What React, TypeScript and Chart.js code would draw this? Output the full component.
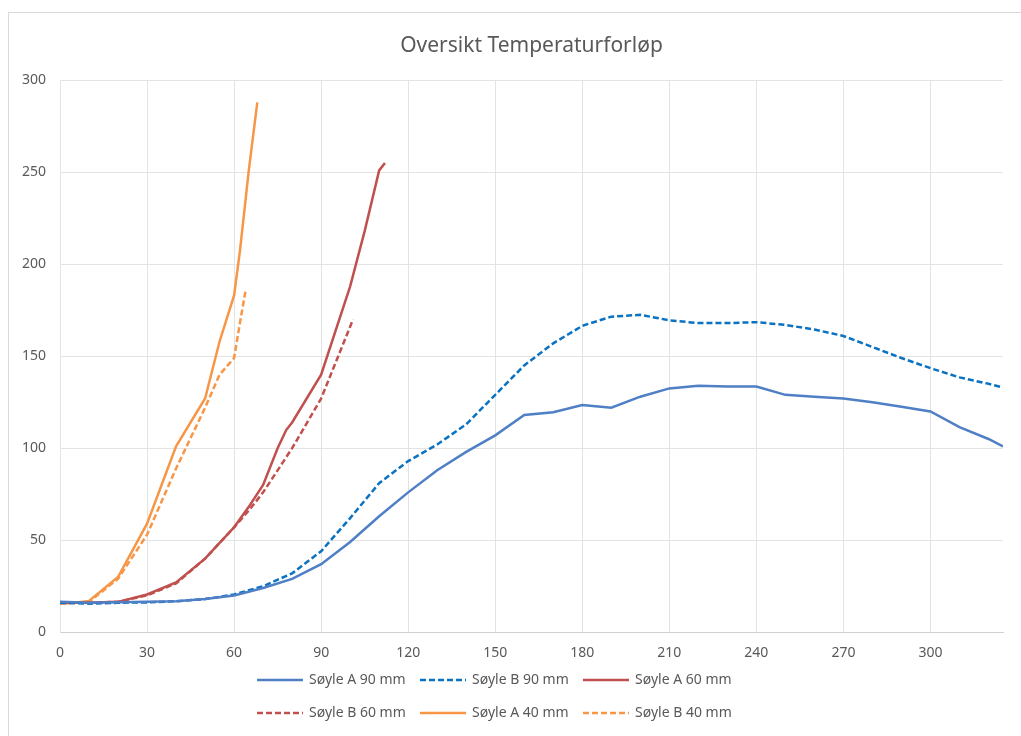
import React, { useEffect, useRef } from 'react';
import { Chart, registerables } from 'chart.js';
Chart.register(...registerables);

const FONT = "'Noto Sans', 'DejaVu Sans', sans-serif";
Chart.defaults.font.family = FONT;

const titleText = 'Oversikt Temperaturforløp';

const a90X = [0, 10, 20, 30, 40, 50, 60, 70, 80, 90, 100, 110, 120, 130, 140, 150, 160, 170, 180, 190, 200, 210, 220, 230, 240, 250, 260, 270, 280, 290, 300, 310, 320, 325];
const a90Y = [16.5, 16, 16.3, 16.5, 16.8, 18, 20, 24, 29, 37, 49, 63, 76, 88, 98, 107, 118, 119.5, 123.5, 122, 128, 132.5, 134, 133.5, 133.5, 129, 128, 127, 125, 122.5, 120, 111.5, 105, 101];

const b90X = [0, 10, 20, 30, 40, 50, 60, 70, 80, 90, 100, 110, 120, 130, 140, 150, 160, 170, 180, 190, 200, 210, 220, 230, 240, 250, 260, 270, 280, 290, 300, 310, 320, 325];
const b90Y = [16, 15.5, 16, 16.2, 16.8, 18, 20.5, 25, 32, 44, 62, 81, 93, 102, 113, 129, 145, 157, 166.5, 171.5, 172.5, 169.5, 168, 168, 168.5, 167, 164.5, 161, 155, 149, 143.5, 138.5, 135, 133];

const a60X = [0, 10, 20, 30, 40, 50, 60, 65, 70, 75, 78, 80, 90, 100, 105, 110, 112];
const a60Y = [16, 16, 16.5, 20.5, 27, 40, 57, 68, 80, 100, 110, 114, 140, 188, 218, 251, 255];

const b60X = [0, 10, 20, 30, 40, 50, 60, 65, 70, 80, 90, 101];
const b60Y = [16, 16, 16.5, 20, 26.5, 40, 57, 66, 76, 100, 127, 170];

const a40X = [0, 5, 10, 20, 30, 40, 50, 55, 60, 62, 65, 68];
const a40Y = [15.5, 16, 17, 30, 59, 101, 127, 158, 183, 207, 250, 288];

const b40X = [0, 10, 20, 30, 40, 50, 55, 60, 62, 64];
const b40Y = [15.5, 16.5, 29, 53, 89, 122, 140, 149, 168, 186];

const seriesNames = ['Søyle A 90 mm', 'Søyle B 90 mm', 'Søyle A 60 mm', 'Søyle B 60 mm', 'Søyle A 40 mm', 'Søyle B 40 mm'];
const seriesX = [a90X, b90X, a60X, b60X, a40X, b40X];
const seriesY = [a90Y, b90Y, a60Y, b60Y, a40Y, b40Y];
const seriesColors = ['#4F7FC4', '#0A72C2', '#C0504D', '#C0504D', '#F79646', '#F79646'];
const seriesDashed = [false, true, false, true, false, true];

const xTickStep = 30;
const xMin = 0;
const xMax = 325;
const yMin = 0;
const yMax = 300;
const yTickStep = 50;

const DASH = [6, 3];

const gridLegend = {
  id: 'gridLegend',
  afterDraw(chart: any) {
    const ctx = chart.ctx;
    const colW = 163;
    const startX = chart.width / 2 - 258;
    const rowsY = [667, 700];
    ctx.save();
    chart.data.datasets.forEach((ds: any, i: number) => {
      const col = i % 3;
      const row = Math.floor(i / 3);
      const x = startX + col * colW;
      const y = rowsY[row];
      ctx.beginPath();
      ctx.strokeStyle = ds.borderColor;
      ctx.lineWidth = 2.5;
      ctx.setLineDash(ds.borderDash || []);
      ctx.moveTo(x, y);
      ctx.lineTo(x + 46, y);
      ctx.stroke();
      ctx.setLineDash([]);
      ctx.fillStyle = '#595959';
      ctx.font = `14px ${FONT}`;
      ctx.textBaseline = 'middle';
      ctx.textAlign = 'left';
      ctx.fillText(ds.label, x + 52, y);
    });
    ctx.restore();
  },
};

export default function App() {
  const ref = useRef<HTMLCanvasElement | null>(null);
  useEffect(() => {
    if (!ref.current) return;
    const datasets = seriesNames.map((name, i) => ({
      label: name,
      data: seriesX[i].map((x, j) => ({ x, y: seriesY[i][j] })),
      borderColor: seriesColors[i],
      backgroundColor: seriesColors[i],
      borderWidth: 2.5,
      borderDash: seriesDashed[i] ? DASH : [],
      pointRadius: 0,
      tension: 0,
      fill: false,
    }));
    const chart = new Chart(ref.current, {
      type: 'line',
      data: { datasets },
      plugins: [gridLegend],
      options: {
        animation: false,
        responsive: false,
        devicePixelRatio: 1,
        parsing: false as any,
        layout: { padding: { left: 0, right: 18, top: 0, bottom: 63 } },
        plugins: {
          legend: { display: false },
          tooltip: { enabled: false },
          title: {
            display: true,
            fullSize: false,
            text: titleText,
            color: '#595959',
            font: { size: 21, weight: 'normal', family: FONT },
            padding: { top: 20, bottom: 22 },
          },
        },
        scales: {
          x: {
            type: 'linear',
            min: xMin,
            max: xMax,
            afterBuildTicks: (scale: any) => {
              scale.ticks = scale.ticks.filter((t: any) => t.value % xTickStep === 0);
            },
            ticks: { stepSize: xTickStep, color: '#595959', font: { size: 14 }, padding: 12, maxRotation: 0 },
            grid: { color: '#e3e3e3', drawTicks: false, lineWidth: 1 },
            border: { color: '#d0d0d0' },
          },
          y: {
            type: 'linear',
            min: yMin,
            max: yMax,
            afterFit: (scale: any) => {
              scale.width = 51;
            },
            ticks: { stepSize: yTickStep, color: '#595959', font: { size: 14 }, padding: 14 },
            grid: { color: '#e3e3e3', drawTicks: false, lineWidth: 1 },
            border: { color: '#e3e3e3' },
          },
        },
      } as any,
    });
    return () => chart.destroy();
  }, []);
  return (
    <div style={{ position: 'fixed', inset: 0, overflow: 'hidden', background: '#fff' }}>
      <div style={{ position: 'absolute', left: 8, top: 12, width: 1040, height: 740, border: '1px solid #d9d9d9', background: '#fff' }}>
        <canvas ref={ref} width={1012} height={723} style={{ display: 'block', position: 'absolute', left: 0, top: 0 }} />
      </div>
    </div>
  );
}
